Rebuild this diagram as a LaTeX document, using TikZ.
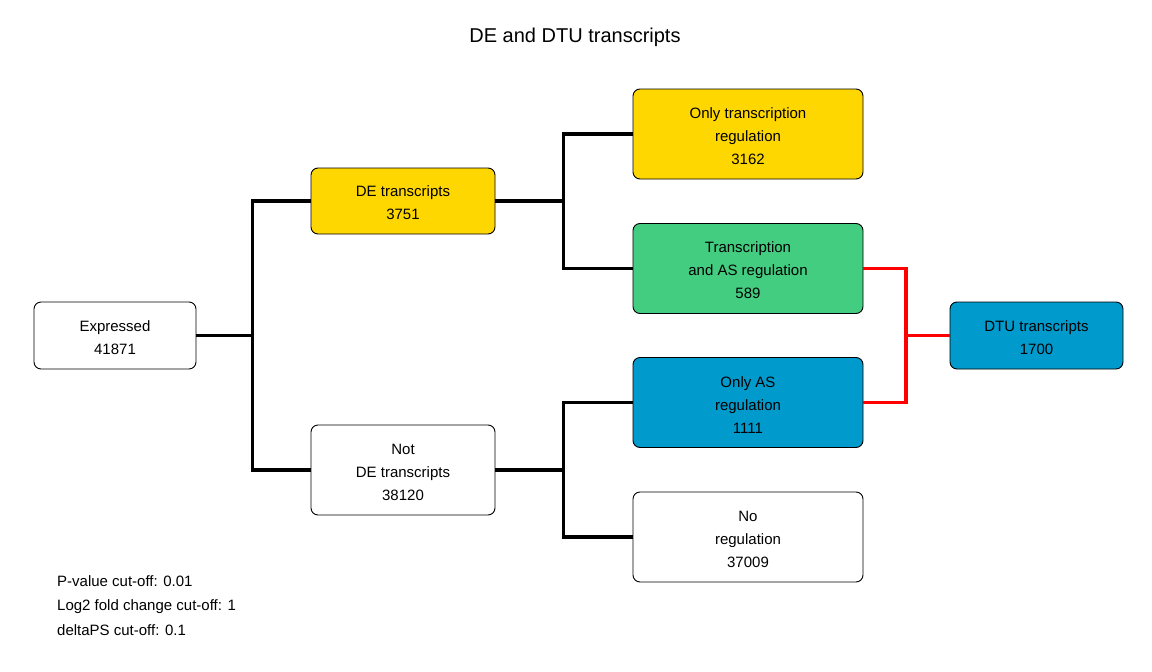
\documentclass[tikz,border=0pt]{standalone}
\usepackage{fontspec}
\setmainfont{Liberation Sans}
\usetikzlibrary{calc}
\definecolor{cgold}{RGB}{255,215,0}
\definecolor{cgreen}{RGB}{67,205,128}
\definecolor{cblue}{RGB}{0,154,205}
\newcommand{\mystrut}{\rule{0pt}{15pt}}
\begin{document}
\begin{tikzpicture}[x=1pt,y=-1pt,
  box/.style={draw=black,line width=0.9pt,rounded corners=7pt,align=center,
    inner sep=0pt,font=\fontsize{15}{23}\selectfont},
  smallbox/.style={box,minimum width=162pt,minimum height=67pt},
  midbox/.style={box,minimum width=184pt},
  bigbox/.style={box,minimum width=230pt,minimum height=90pt},
  blk/.style={line width=3.8pt,draw=black},
  redl/.style={line width=3.8pt,draw=red}]
\useasboundingbox (0,0) rectangle (1152,672);
\fill[white] (0,0) rectangle (1152,672);
\node[font=\fontsize{20}{24}\selectfont] (title) at (575,37) {DE and DTU transcripts};
\node[smallbox,fill=white] (expr) at (115,335.5) {\mystrut Expressed\\41871};
\node[midbox,minimum height=66pt,fill=cgold] (de) at (403,201) {\mystrut DE transcripts\\3751};
\node[midbox,minimum height=90pt,fill=white] (notde) at (403,470) {\mystrut Not\\DE transcripts\\38120};
\node[bigbox,fill=cgold] (onlytr) at (748,134) {\mystrut Only transcription\\regulation\\3162};
\node[bigbox,fill=cgreen] (tras) at (748,268.5) {\mystrut Transcription\\and AS regulation\\589};
\node[bigbox,fill=cblue] (onlyas) at (748,402.5) {\mystrut Only AS\\regulation\\1111};
\node[bigbox,fill=white] (noreg) at (748,537) {\mystrut No\\regulation\\37009};
\node[smallbox,minimum width=173pt,fill=cblue] (dtu) at (1036.5,335.5) {\mystrut DTU transcripts\\1700};
\node[anchor=north west,align=left,inner sep=0pt,font=\fontsize{15}{24.5}\selectfont] (cut) at (57,575)
  {P-value cut-off: 0.01\\Log2 fold change cut-off: 1\\deltaPS cut-off: 0.1};
% junctions
\coordinate (j1) at ($(expr.east)+(56,0)$);
\coordinate (j2) at ($(de.east)+(68,0)$);
\coordinate (j3) at ($(notde.east)+(68,0)$);
\coordinate (j4) at (906,335.5);
\draw[blk] (expr.east) -- (j1);
\draw[blk] (de.west) -| (j1) |- (notde.west);
\draw[blk] (de.east) -- (j2);
\draw[blk] (onlytr.west) -| (j2) |- (tras.west);
\draw[blk] (notde.east) -- (j3);
\draw[blk] (onlyas.west) -| (j3) |- (noreg.west);
\draw[redl] (tras.east) -| (j4) |- (onlyas.east);
\draw[redl] (j4) -- (dtu.west);
\end{tikzpicture}
\end{document}
